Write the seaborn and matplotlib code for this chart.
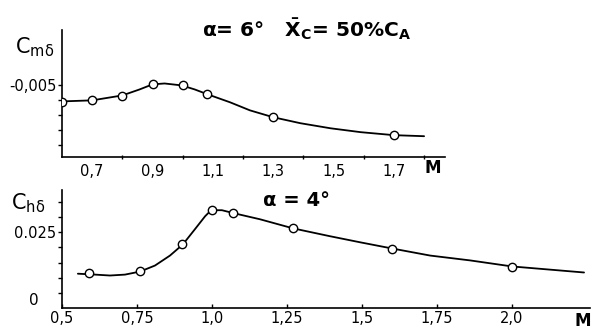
import matplotlib
matplotlib.use("Agg")
import matplotlib.pyplot as plt
import numpy as np
import pandas as pd
import seaborn as sns

sns.set_theme(style="ticks")
plt.rcParams["font.family"] = ["DejaVu Sans"]
plt.rcParams["text.color"] = "black"
plt.rcParams["xtick.color"] = "black"
plt.rcParams["ytick.color"] = "black"
plt.rcParams["axes.edgecolor"] = "black"

# top panel: Cm_delta vs M (alpha = 6 deg)
top_curve_m = [0.60, 0.70, 0.80, 0.857, 0.90, 0.94, 0.997, 1.04, 1.083, 1.157,
               1.223, 1.30, 1.39, 1.49, 1.59, 1.70, 1.80]
top_curve_cm = [-0.00393, -0.0040, -0.00433, -0.00473, -0.00507, -0.00513, -0.0050,
                -0.00473, -0.0044, -0.00387, -0.00333, -0.00287, -0.00247, -0.00213,
                -0.00187, -0.00167, -0.0016]
top_pts_m = [0.60, 0.70, 0.80, 0.90, 1.0, 1.08, 1.30, 1.70]
top_pts_cm = [-0.0039, -0.0040, -0.0043, -0.0051, -0.0050, -0.0044, -0.0029, -0.0017]
top_xlabels = ["0,7", "0,9", "1,1", "1,3", "1,5", "1,7"]

# bottom panel: Ch_delta vs M (alpha = 4 deg)
bot_curve_m = [0.553, 0.61, 0.66, 0.71, 0.76, 0.81, 0.86, 0.903, 0.943, 0.977, 0.997,
               1.033, 1.073, 1.16, 1.27, 1.393, 1.493, 1.597, 1.727, 1.86, 2.0, 2.12, 2.24]
bot_curve_ch = [0.0113, 0.0110, 0.0107, 0.0110, 0.0120, 0.0140, 0.0173, 0.0210, 0.0260,
                0.0303, 0.0323, 0.0323, 0.0313, 0.0293, 0.0263, 0.0237, 0.0217, 0.0197,
                0.0173, 0.0157, 0.0137, 0.0127, 0.0117]
bot_pts_m = [0.59, 0.76, 0.90, 1.0, 1.07, 1.27, 1.60, 2.0]
bot_pts_ch = [0.0116, 0.0121, 0.0210, 0.0323, 0.0313, 0.0263, 0.0196, 0.0136]
bot_xlabels = ["0,5", "0,75", "1,0", "1,25", "1,5", "1,75", "2,0"]

fig = plt.figure(figsize=(5.96, 3.35), dpi=100)
ax1 = fig.add_axes([0.104, 0.531, 0.643, 0.379])
ax2 = fig.add_axes([0.104, 0.081, 0.886, 0.352])
for ax in (ax1, ax2):
    ax.set_facecolor("none")
    sns.despine(ax=ax)
    ax.spines["left"].set_linewidth(1.2)
    ax.spines["bottom"].set_linewidth(1.2)

line_kw = dict(color="black", linewidth=1.3, sort=False, estimator=None)
pt_kw = dict(s=36, facecolor="white", edgecolor="black", linewidth=1.0, zorder=5)

top_curve = pd.DataFrame({"M": top_curve_m, "C": top_curve_cm})
top_pts = pd.DataFrame({"M": top_pts_m, "C": top_pts_cm})
sns.lineplot(data=top_curve, x="M", y="C", ax=ax1, **line_kw)
sns.scatterplot(data=top_pts, x="M", y="C", ax=ax1, **pt_kw)
ax1.set_xlim(0.6, 1.87)
ax1.set_ylim(-0.0002, -0.0087)
ax1.set_xticks([0.7, 0.9, 1.1, 1.3, 1.5, 1.7], top_xlabels)
ax1.set_xticks([0.8, 1.0, 1.2, 1.4, 1.6, 1.8], minor=True)
ax1.tick_params(axis="x", which="major", length=0, labelsize=10.5, pad=5)
ax1.tick_params(axis="x", which="minor", length=3, direction="inout", width=1)
ax1.set_yticks([-0.005, -0.004, -0.003, -0.002, -0.001], ["-0,005", "", "", "", ""])
ax1.tick_params(axis="y", length=3, width=1, labelsize=10.5, pad=1)
ax1.set_xlabel("")
ax1.set_ylabel("")
ax1.text(1.83, -0.00005, "M", fontsize=12, fontweight="bold", va="top", ha="center")

bot_curve = pd.DataFrame({"M": bot_curve_m, "C": bot_curve_ch})
bot_pts = pd.DataFrame({"M": bot_pts_m, "C": bot_pts_ch})
sns.lineplot(data=bot_curve, x="M", y="C", ax=ax2, **line_kw)
sns.scatterplot(data=bot_pts, x="M", y="C", ax=ax2, **pt_kw)
ax2.set_xlim(0.5, 2.26)
ax2.set_ylim(0, 0.039)
ax2.set_xticks([0.5, 0.75, 1.0, 1.25, 1.5, 1.75, 2.0], bot_xlabels)
ax2.tick_params(axis="x", length=3, direction="in", width=1, labelsize=10.5, pad=2)
ax2.set_yticks([0.005, 0.010, 0.015, 0.020, 0.025, 0.030, 0.035],
               ["", "", "", "", "0.025", "", ""])
ax2.tick_params(axis="y", length=3, width=1, labelsize=10.5, pad=1)
ax2.set_xlabel("")
ax2.set_ylabel("")
ax2.text(-0.045, 0.0025, "0", transform=ax2.get_yaxis_transform(), fontsize=11,
         ha="right", va="center")
ax2.text(2.235, -0.0015, "M", fontsize=12, fontweight="bold", va="top", ha="center")

fig.text(0.025, 0.84, r"$\mathregular{C_{m\delta}}$", fontsize=15)
fig.text(0.018, 0.375, r"$\mathregular{C_{h\delta}}$", fontsize=15)
fig.text(0.515, 0.913, r"α= 6°   $\mathbf{\bar{X}_{C}}$= 50%C$_{\mathbf{A}}$",
         fontsize=14.5, fontweight="bold", ha="center", va="center")
fig.text(0.497, 0.40, "α = 4°", fontsize=14, fontweight="bold", ha="center", va="center")

fig.savefig("out.png", dpi=100)
